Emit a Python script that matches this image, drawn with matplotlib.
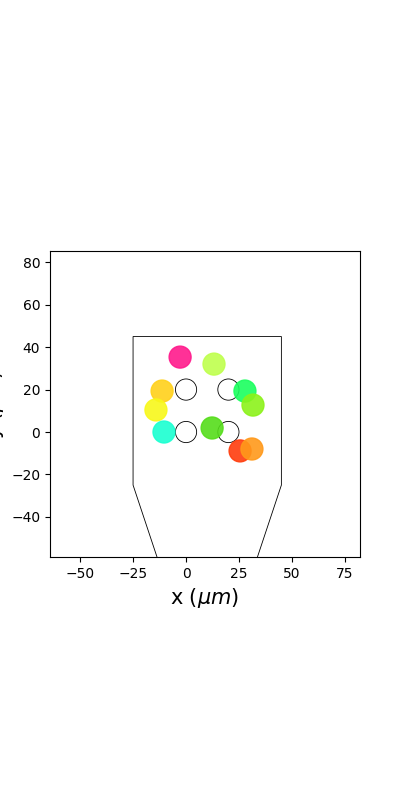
import matplotlib.pyplot as plt
from matplotlib.patches import Circle, Polygon

# probe contact positions (um)
contact_x = [0, 20, 0, 20]
contact_y = [0, 0, 20, 20]
contact_radius = 5

# probe outline
contour_x = [-25, -25, 45, 45, 10, -25]
contour_y = [-25, 45, 45, -25, -130, -25]

# unit locations
unit_x = [-2.8, 13.2, -11.3, -14.2, -10.4, 12.3, 27.8, 31.6, 25.5, 31.1]
unit_y = [35.3, 32.0, 19.3, 10.4, 0.0, 1.9, 19.3, 12.7, -8.9, -8.0]
unit_colors = ['#ff1a8c', '#bfff4d', '#ffd11a', '#f8f81a', '#1affd1',
               '#55dd1a', '#1aff5e', '#8cf21a', '#ff3d0d', '#ff991a']

fig = plt.figure(figsize=(4, 8), dpi=100)
ax = fig.add_axes([0.125, 0.304, 0.775, 0.382])

ax.add_patch(Polygon(list(zip(contour_x, contour_y)), closed=True, fill=False,
                     edgecolor='k', lw=0.6))
for cx, cy in zip(contact_x, contact_y):
    ax.add_patch(Circle((cx, cy), contact_radius, fill=False, edgecolor='k', lw=0.6))

ax.scatter(unit_x, unit_y, s=250, c=unit_colors, alpha=0.9, zorder=3)

ax.set_xlim(-64.2, 82.1)
ax.set_ylim(-58.8, 85.2)
ax.set_xticks([-50, -25, 0, 25, 50, 75])
ax.set_xlabel('x ($\\mu m$)', fontsize=15)
ax.set_ylabel('y ($\\mu m$)', fontsize=15)

fig.savefig('out.png', dpi=100)
